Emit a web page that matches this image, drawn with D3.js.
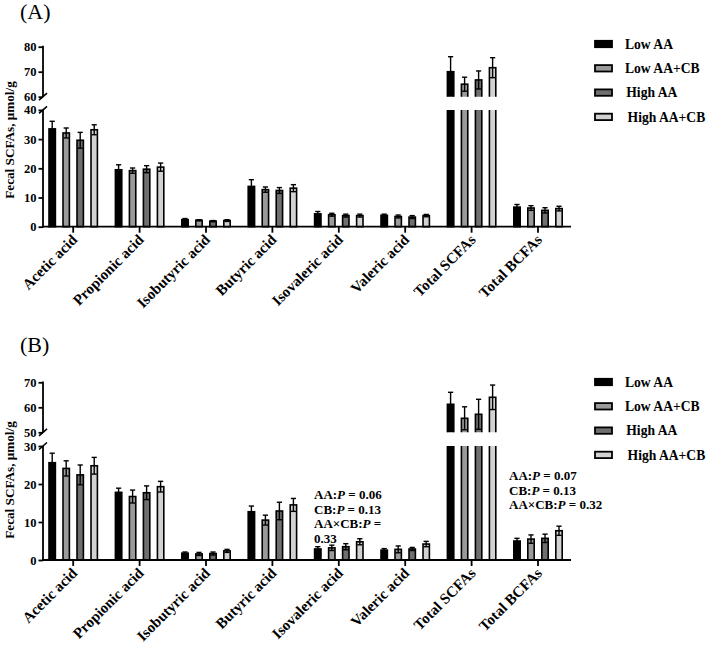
<!DOCTYPE html>
<html><head><meta charset="utf-8">
<script src="https://cdn.jsdelivr.net/npm/d3@7"></script>
<style>body{margin:0;background:#fff}svg{display:block}</style>
</head><body><svg id="c" width="709" height="651" font-family="'Liberation Serif', 'Times New Roman', serif"></svg>
<script>
// ---------- data ----------
const categories = ["Acetic acid","Propionic acid","Isobutyric acid","Butyric acid","Isovaleric acid","Valeric acid","Total SCFAs","Total BCFAs"];
const seriesNames = ["Low AA","Low AA+CB","High AA","High AA+CB"];
const seriesColors = ["#000000","#9a9a9a","#6f6f6f","#d2d2d2"];

// Panel A means / SD
const aLowAA     = [33.5, 19.5, 2.4, 13.8, 4.4, 3.9, 70.0, 6.7];
const aLowAACB   = [32.1, 19.2, 2.2, 12.7, 4.1, 3.5, 65.0, 6.4];
const aHighAA    = [29.6, 19.7, 1.9, 12.4, 3.8, 3.3, 66.7, 5.6];
const aHighAACB  = [33.2, 20.4, 2.1, 13.2, 3.8, 3.8, 71.6, 6.2];
const aLowAAErr    = [2.6, 1.7, 0.4, 2.3, 0.8, 0.4, 6.0, 0.9];
const aLowAACBErr  = [1.7, 0.9, 0.2, 0.9, 0.5, 0.5, 2.8, 0.8];
const aHighAAErr   = [2.7, 1.2, 0.2, 1.0, 0.5, 0.5, 3.6, 0.9];
const aHighAACBErr = [1.7, 1.4, 0.3, 1.2, 0.5, 0.4, 4.0, 0.8];

// Panel B means / SD
const bLowAA     = [25.6, 17.8, 1.8, 12.7, 2.9, 2.6, 61.2, 5.0];
const bLowAACB   = [24.1, 16.7, 1.6, 10.5, 3.2, 2.8, 55.6, 5.5];
const bHighAA    = [22.4, 17.7, 1.7, 12.9, 3.5, 2.9, 57.2, 5.7];
const bHighAACB  = [24.8, 19.3, 2.4, 14.5, 4.8, 4.2, 64.0, 7.7];
const bLowAAErr    = [2.5, 1.1, 0.3, 1.5, 0.6, 0.4, 4.8, 0.7];
const bLowAACBErr  = [2.0, 1.7, 0.4, 1.3, 0.7, 0.9, 4.6, 1.1];
const bHighAAErr   = [2.6, 1.8, 0.4, 2.3, 0.8, 0.4, 6.0, 1.1];
const bHighAACBErr = [2.2, 1.4, 0.4, 1.7, 0.8, 0.7, 4.9, 1.2];

// tick labels
const aLowTicks = [0,10,20,30,40];
const aUpTicks  = [60,70,80];
const bLowTicks = [0,10,20,30];
const bUpTicks  = [50,60,70];

const yTitle = "Fecal SCFAs, μmol/g";
const annotB1 = ["AA:P = 0.06","CB:P = 0.13","AA×CB:P =","0.33"];
const annotB2 = ["AA:P = 0.07","CB:P = 0.13","AA×CB:P = 0.32"];

// ---------- drawing ----------
const FONT = "'Liberation Serif', 'Times New Roman', serif";
const svg = d3.select("#c");
const x0 = d3.scaleBand().domain(categories).range([40, 571.2]).paddingInner(0.247).paddingOuter(0.1235);
const x1 = d3.scaleBand().domain(seriesNames).range([0, x0.bandwidth()]).paddingInner(0.43).paddingOuter(0);

function drawPanel(cfg, idx) {
  const g = svg.append("g").attr("font-family", FONT);
  const yLow = d3.scaleLinear().domain([cfg.lowTicks[0], cfg.lowTicks[cfg.lowTicks.length-1]]).range(cfg.lowRange);
  const yUp  = d3.scaleLinear().domain([cfg.upTicks[0], cfg.upTicks[cfg.upTicks.length-1]]).range(cfg.upRange);
  const lowMax = yLow.domain()[1], upMin = yUp.domain()[0];
  const base = yLow(0);

  const defs = svg.append("defs");
  defs.append("clipPath").attr("id","lowClip"+idx).append("rect")
    .attr("x",0).attr("width",709).attr("y",yLow(lowMax)).attr("height",base - yLow(lowMax) + 2);
  defs.append("clipPath").attr("id","upClip"+idx).append("rect")
    .attr("x",0).attr("width",709).attr("y",0).attr("height",yUp(upMin));

  const rows = [];
  cfg.series.forEach((vals, si) => {
    vals.forEach((v, ci) => rows.push({cat: categories[ci], s: seriesNames[si], si, v, e: cfg.errs[si][ci]}));
  });
  const sw = 1.6;
  const bw = x1.bandwidth() - sw;
  const bx = d => x0(d.cat) + x1(d.s) + sw/2;

  g.append("g").attr("clip-path","url(#lowClip"+idx+")")
    .selectAll("rect").data(rows).join("rect")
    .attr("x", bx).attr("width", bw)
    .attr("y", d => d.v > lowMax ? yLow(lowMax) - 10 : yLow(d.v))
    .attr("height", d => base - (d.v > lowMax ? yLow(lowMax) - 10 : yLow(d.v)))
    .attr("fill", d => seriesColors[d.si]).attr("stroke","#000").attr("stroke-width", sw);

  g.append("g").attr("clip-path","url(#upClip"+idx+")")
    .selectAll("rect").data(rows.filter(d => d.v > upMin)).join("rect")
    .attr("x", bx).attr("width", bw)
    .attr("y", d => yUp(d.v))
    .attr("height", d => yUp(upMin) + 10 - yUp(d.v))
    .attr("fill", d => seriesColors[d.si]).attr("stroke","#000").attr("stroke-width", sw);

  const eg = g.append("g").attr("stroke","#000").attr("stroke-width",1.4);
  rows.forEach(d => {
    const ys = d.v > upMin ? yUp : yLow;
    const cx = x0(d.cat) + x1(d.s) + x1.bandwidth()/2;
    const t = ys(d.v + d.e), b = ys(d.v - d.e);
    eg.append("line").attr("x1",cx).attr("x2",cx).attr("y1",t).attr("y2",b);
    eg.append("line").attr("x1",cx-2.6).attr("x2",cx+2.6).attr("y1",t).attr("y2",t);
    eg.append("line").attr("x1",cx-2.6).attr("x2",cx+2.6).attr("y1",b).attr("y2",b);
  });

  const axX = 43;
  [[yLow, cfg.lowTicks],[yUp, cfg.upTicks]].forEach(([sc, tv]) => {
    const ax = g.append("g").attr("transform",`translate(${axX},0)`)
      .call(d3.axisLeft(sc).tickValues(tv).tickSize(4.5).tickPadding(2).tickSizeOuter(0));
    ax.select(".domain").remove();
    ax.attr("font-family", FONT);
    ax.selectAll(".tick line").attr("stroke-width",1.8);
    ax.selectAll(".tick text").attr("font-size",12.5).attr("font-weight","bold").attr("fill","#000");
  });
  const al = g.append("g").attr("stroke","#000").attr("stroke-width",1.8).attr("fill","none");
  al.append("line").attr("x1",axX).attr("x2",axX).attr("y1",yUp.range()[1]-0.9).attr("y2",yUp(upMin));
  al.append("line").attr("x1",axX).attr("x2",axX).attr("y1",yLow(lowMax)).attr("y2",base+0.9);
  [yUp(upMin), yLow(lowMax)].forEach(y => {
    al.append("line").attr("x1",axX-4).attr("x2",axX+4).attr("y1",y+3.5).attr("y2",y-3.5).attr("stroke-width",1.6);
  });

  const xa = g.append("g").attr("transform",`translate(0,${base})`)
    .call(d3.axisBottom(x0).tickSize(6).tickSizeOuter(0));
  xa.select(".domain").remove();
  xa.selectAll(".tick line").attr("stroke-width",1.8);
  xa.selectAll(".tick text").remove();
  g.append("line").attr("x1",axX-0.9).attr("x2",571).attr("y1",base).attr("y2",base)
    .attr("stroke","#000").attr("stroke-width",1.8);
  g.append("g").selectAll("text").data(categories).join("text")
    .attr("transform", d => `translate(${x0(d) + x0.bandwidth()/2 + 5},${base + 14}) rotate(-45)`)
    .attr("text-anchor","end").attr("font-size",15).attr("font-weight","bold").text(d => d);

  g.append("text").attr("transform",`translate(14,${cfg.titleY}) rotate(-90)`)
    .attr("text-anchor","middle").attr("font-size",13.2).attr("font-weight","bold").text(yTitle);

  g.append("text").attr("x",20).attr("y",cfg.labelY).attr("font-size",22).text(cfg.label);

  const lg = g.append("g");
  seriesNames.forEach((n, i) => {
    const y = cfg.legendY + i * 24.3;
    lg.append("rect").attr("x",595).attr("y",y-3.2).attr("width",17).attr("height",6.4)
      .attr("fill",seriesColors[i]).attr("stroke","#000").attr("stroke-width",1.8);
    lg.append("text").attr("x",625 + (i>=2 ? (i-1)*1.3 : 0)).attr("y",y).attr("dy","0.35em")
      .attr("font-size",13.6).attr("font-weight","bold").text(n);
  });

  (cfg.annots || []).forEach(a => {
    a.lines.forEach((ln, i) => {
      const t = g.append("text").attr("x",a.x).attr("y",a.y + i*14.5)
        .attr("font-size",13).attr("font-weight","bold");
      const k = ln.indexOf(":P");
      if (k >= 0) {
        t.append("tspan").text(ln.slice(0,k+1));
        t.append("tspan").attr("font-style","italic").text("P");
        t.append("tspan").text(ln.slice(k+2));
      } else t.text(ln);
    });
  });
}

drawPanel({
  label:"(A)", labelY:19,
  lowTicks:aLowTicks, upTicks:aUpTicks, lowRange:[226.7,109.9], upRange:[96.7,46.7],
  series:[aLowAA,aLowAACB,aHighAA,aHighAACB], errs:[aLowAAErr,aLowAACBErr,aHighAAErr,aHighAACBErr],
  titleY:140, legendY:44
}, 0);

drawPanel({
  label:"(B)", labelY:352,
  lowTicks:bLowTicks, upTicks:bUpTicks, lowRange:[560,446], upRange:[432.3,382.3],
  series:[bLowAA,bLowAACB,bHighAA,bHighAACB], errs:[bLowAAErr,bLowAACBErr,bHighAAErr,bHighAACBErr],
  titleY:480, legendY:382,
  annots:[{x:314,y:499,lines:annotB1},{x:509,y:480,lines:annotB2}]
}, 1);
</script></body></html>
